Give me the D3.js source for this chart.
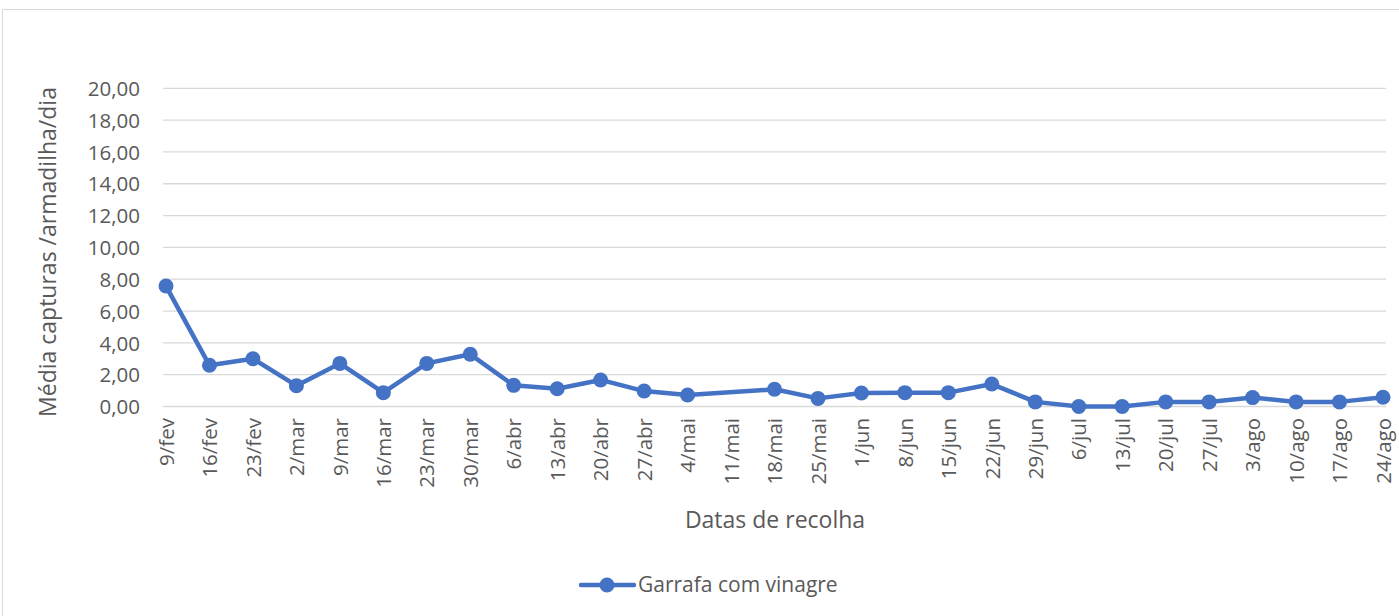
<!DOCTYPE html>
<html><head><meta charset="utf-8">
<script src="https://cdn.jsdelivr.net/npm/d3@7"></script>
<style>body{margin:0;background:#fff}svg{display:block}text{font-family:"Open Sans","Liberation Sans",sans-serif;fill:#595959}</style>
</head><body>
<svg id="c" width="1399" height="616"></svg>
<script>
const categories = ["9/fev","16/fev","23/fev","2/mar","9/mar","16/mar","23/mar","30/mar","6/abr","13/abr","20/abr","27/abr","4/mai","11/mai","18/mai","25/mai","1/jun","8/jun","15/jun","22/jun","29/jun","6/jul","13/jul","20/jul","27/jul","3/ago","10/ago","17/ago","24/ago"];
const values = [7.57,2.59,3.0,1.31,2.71,0.87,2.71,3.28,1.33,1.12,1.67,0.97,0.72,null,1.08,0.51,0.85,0.87,0.87,1.41,0.29,0,0,0.29,0.29,0.56,0.29,0.29,0.58];
const yTicks = [0,2,4,6,8,10,12,14,16,18,20];
const seriesName = "Garrafa com vinagre";
const yTitle = "Média capturas /armadilha/dia";
const xTitle = "Datas de recolha";

const svg = d3.select("#c");
const color = "#4472C4";
svg.append("rect").attr("x",2.5).attr("y",9.5).attr("width",1420).attr("height",640).attr("fill","none").attr("stroke","#d9d9d9");

const x = d3.scalePoint().domain(categories).range([166,1383]);
const y = d3.scaleLinear().domain([0,20]).range([406.5,88.3]);
const fmt = d => d3.format(".2f")(d).replace(".",",");
const ff = '"Open Sans","Liberation Sans",sans-serif';

// gridlines
svg.append("g").selectAll("line").data(yTicks).join("line")
  .attr("x1",163).attr("x2",1386).attr("y1",d=>y(d)).attr("y2",d=>y(d))
  .attr("stroke","#d9d9d9").attr("stroke-width",1.3);

// y axis labels
const yAxis = d3.axisLeft(y).tickValues(yTicks).tickFormat(fmt).tickSize(0).tickPadding(0);
const gy = svg.append("g").attr("transform","translate(140,0)").call(yAxis);
gy.select(".domain").remove();
gy.selectAll("text").attr("font-size",20.5).attr("fill","#595959").attr("dy","0.35em").style("font-family",ff);

// x axis labels
const xAxis = d3.axisBottom(x).tickSize(0).tickPadding(0);
const gx = svg.append("g").attr("transform","translate(0,414)").call(xAxis);
gx.select(".domain").remove();
gx.selectAll("text").attr("font-size",20.5).attr("fill","#595959")
  .attr("text-anchor","end").attr("transform","rotate(-90)")
  .attr("x",-4).attr("y",0).attr("dy","0.35em").style("font-family",ff);

// titles
svg.append("text").attr("transform","translate(56,252) rotate(-90)").attr("text-anchor","middle")
  .attr("font-size",23).text(yTitle);
svg.append("text").attr("x",775).attr("y",528).attr("text-anchor","middle").attr("font-size",23).text(xTitle);

// line
const pts = categories.map((c,i)=>({c,v:values[i]})).filter(d=>d.v!==null);
const line = d3.line().x(d=>x(d.c)).y(d=>y(d.v));
svg.append("path").datum(pts).attr("d",line).attr("fill","none").attr("stroke",color)
  .attr("stroke-width",4.5).attr("stroke-linejoin","round").attr("stroke-linecap","round");
svg.append("g").selectAll("circle").data(pts).join("circle")
  .attr("cx",d=>x(d.c)).attr("cy",d=>y(d.v)).attr("r",7.5).attr("fill",color);

// legend
const lg = svg.append("g");
lg.append("line").attr("x1",581).attr("x2",634).attr("y1",585).attr("y2",585).attr("stroke",color).attr("stroke-width",4.5).attr("stroke-linecap","round");
lg.append("circle").attr("cx",607).attr("cy",585).attr("r",7.5).attr("fill",color);
lg.append("text").attr("x",638).attr("y",585).attr("dy","0.35em").attr("font-size",21).text(seriesName);
</script>
</body></html>
